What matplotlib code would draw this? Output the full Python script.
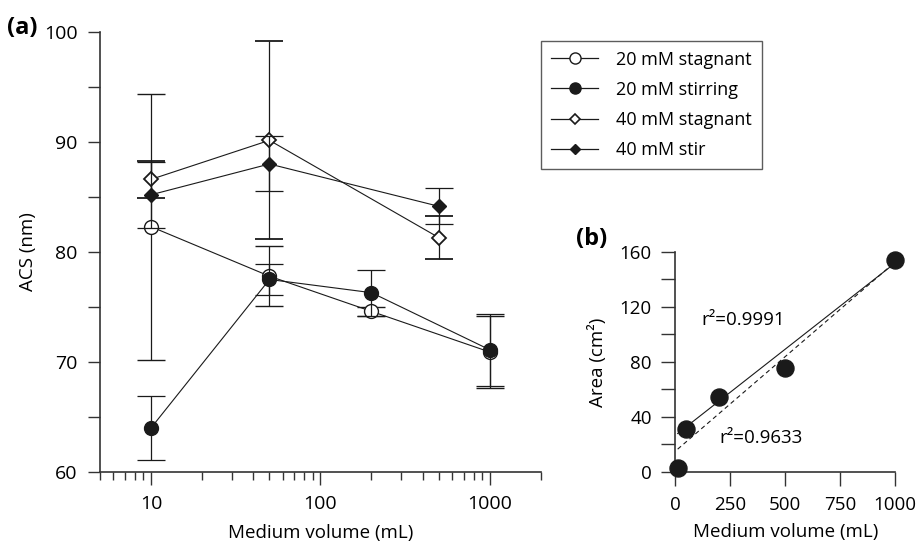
import numpy as np
import matplotlib
matplotlib.use('Agg')
import matplotlib.pyplot as plt
from matplotlib.ticker import FixedLocator, NullFormatter
from matplotlib.lines import Line2D

plt.rcParams['font.family'] = ['Open Sans', 'DejaVu Sans']

# panel (a) data
vol20 = [10, 50, 200, 1000]
vol40 = [10, 50, 500]
stag20 = [82.3, 77.8, 74.6, 70.9]
stag20_err = [12.1, 2.7, 0.4, 3.3]
stir20 = [64.0, 77.5, 76.3, 71.1]
stir20_err = [2.95, 1.45, 2.1, 3.3]
stag40 = [86.6, 90.15, 81.3]
stag40_err = [1.7, 9.0, 1.95]
stir40 = [85.2, 88.0, 84.15]
stir40_err = [3.0, 2.5, 1.65]
labels = ['20 mM stagnant', '20 mM stirring', '40 mM stagnant', '40 mM stir']

# panel (b) data
vol_b = [10, 50, 200, 500, 1000]
area_b = [3, 31.4, 54.4, 75.4, 154]
fit_slope = [0.125, 0.1372]
fit_icpt = [26.7, 15.2]
fit_r2 = ['0.9991', '0.9633']

fig = plt.figure(figsize=(9.18, 5.44), dpi=100)
ax = fig.add_axes([0.1089, 0.1324, 0.4804, 0.8088])

c = '#1a1a1a'
kw = dict(color=c, lw=0.8, elinewidth=0.9, capsize=10, capthick=0.9, clip_on=False)
ax.errorbar(vol20, stag20, yerr=stag20_err, fmt='-o', ms=10, mfc='white', mec=c, mew=1, zorder=3, **kw)
ax.errorbar(vol20, stir20, yerr=stir20_err, fmt='-o', ms=10, mfc=c, mec=c, zorder=4, **kw)
ax.errorbar(vol40, stag40, yerr=stag40_err, fmt='-D', ms=7, mfc='white', mec=c, mew=1.3, zorder=3, **kw)
ax.errorbar(vol40, stir40, yerr=stir40_err, fmt='-D', ms=7, mfc=c, mec=c, zorder=4, **kw)

handles = [
    Line2D([], [], color=c, lw=0.9, marker='o', ms=8, mfc='white', mec=c, mew=1),
    Line2D([], [], color=c, lw=0.9, marker='o', ms=8, mfc=c, mec=c),
    Line2D([], [], color=c, lw=0.9, marker='D', ms=5.5, mfc='white', mec=c, mew=1.2),
    Line2D([], [], color=c, lw=0.9, marker='D', ms=5.5, mfc=c, mec=c),
]

ax.set_xscale('log')
ax.set_xlim(5, 2000)
ax.set_ylim(60, 100)
ax.set_yticks([60, 70, 80, 90, 100])
ax.yaxis.set_minor_locator(FixedLocator([65, 75, 85, 95]))
ax.set_xticks([10, 100, 1000])
ax.set_xticklabels(['10', '100', '1000'])
ax.xaxis.set_minor_locator(FixedLocator([5, 6, 7, 8, 9, 20, 30, 40, 50, 60, 70, 80, 90,
                                         200, 300, 400, 500, 600, 700, 800, 900, 2000]))
ax.xaxis.set_minor_formatter(NullFormatter())
for s in ['top', 'right']:
    ax.spines[s].set_visible(False)
for s in ['left', 'bottom']:
    ax.spines[s].set_color('#333333')
    ax.spines[s].set_linewidth(1.2)
ax.tick_params(axis='both', which='major', length=9, width=1, color='#333333', labelsize=14)
ax.tick_params(axis='y', which='major', pad=7)
ax.tick_params(axis='x', which='major', pad=7.5)
ax.tick_params(axis='x', which='minor', length=6, width=1, color='#333333')
ax.tick_params(axis='y', which='minor', length=9, width=1, color='#333333')
ax.set_xlabel('Medium volume (mL)', fontsize=13.5, labelpad=8)
ax.set_ylabel('ACS (nm)', fontsize=13.5, labelpad=5)

leg = ax.legend(handles, labels, loc='upper left', bbox_to_anchor=(0.58, 0.942),
                bbox_transform=fig.transFigure, fontsize=13, frameon=True, fancybox=False,
                edgecolor='#333333', handlelength=2.6, handletextpad=1.0,
                labelspacing=0.68, borderpad=0.55)
leg.get_frame().set_linewidth(1)

fig.text(0.008, 0.948, '(a)', fontsize=17, fontweight='bold', va='center')

# panel (b)
axb = fig.add_axes([0.7358, 0.1324, 0.2391, 0.4049])
axb.scatter(vol_b, area_b, s=150, color=c, zorder=4, clip_on=False)
xf = np.array([10, 1000])
axb.plot(xf, fit_slope[0] * xf + fit_icpt[0], color=c, lw=0.8)
axb.plot(xf, fit_slope[1] * xf + fit_icpt[1], color=c, lw=0.8, ls=(0, (4, 3)))
axb.set_xlim(0, 1000)
axb.set_ylim(0, 160)
axb.set_xticks([0, 250, 500, 750, 1000])
axb.set_yticks([0, 40, 80, 120, 160])
axb.yaxis.set_minor_locator(FixedLocator([20, 60, 100, 140]))
for s in ['top', 'right']:
    axb.spines[s].set_visible(False)
for s in ['left', 'bottom']:
    axb.spines[s].set_color('#333333')
    axb.spines[s].set_linewidth(1.2)
axb.tick_params(axis='both', which='both', length=10, width=1, color='#333333', labelsize=13.5)
axb.tick_params(axis='y', which='major', pad=7)
axb.tick_params(axis='x', which='major', pad=7)
axb.set_xlabel('Medium volume (mL)', fontsize=13.5, labelpad=7)
axb.set_ylabel('Area (cm²)', fontsize=13.5, labelpad=9)
axb.text(0.12, 0.69, 'r²=' + fit_r2[0], transform=axb.transAxes, fontsize=13.5, va='center')
axb.text(0.198, 0.155, 'r²=' + fit_r2[1], transform=axb.transAxes, fontsize=13.5, va='center')

fig.text(0.627, 0.561, '(b)', fontsize=17, fontweight='bold', va='center')

fig.savefig('out.png', dpi=100)
